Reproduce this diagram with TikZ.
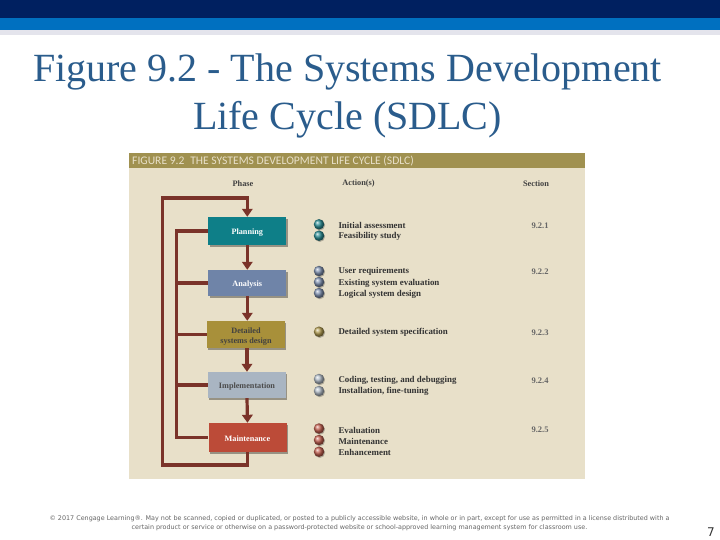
\documentclass[tikz,border=0pt]{standalone}
\usepackage{fontspec}
\setmainfont{Liberation Serif}
\newfontfamily\headfont{Carlito}
\newfontfamily\notefont{DejaVu Sans}
\usetikzlibrary{arrows.meta,shadows}
\definecolor{navyband}{HTML}{002060}
\definecolor{blueband}{HTML}{0070C0}
\definecolor{paleband}{HTML}{E4E4EC}
\definecolor{titleblue}{HTML}{2A5C8C}
\definecolor{panelfill}{HTML}{E8E0C9}
\definecolor{panelhead}{HTML}{A09150}
\definecolor{flowred}{HTML}{7A3329}
\definecolor{tealbox}{HTML}{0E7F88}
\definecolor{slatebox}{HTML}{6F84A8}
\definecolor{goldbox}{HTML}{A8903A}
\definecolor{greybox}{HTML}{A9B5C2}
\definecolor{redbox}{HTML}{BC4B38}
\newcommand{\lowertext}[2][1.2pt]{\raisebox{-#1}[\height][\depth]{#2}}
\tikzset{
    phasebox/.style={minimum width=78pt, minimum height=27pt, inner sep=0pt, align=center,
        font=\fontsize{8.2}{10}\selectfont\bfseries, text=white,
        drop shadow={shadow xshift=1.2pt, shadow yshift=-1.6pt, fill=black!35!panelfill, opacity=1}},
    flowline/.style={flowred, line width=3.2pt},
    flowarrow/.style={flowline, -{Triangle[width=10.5pt, length=8pt]}},
    ball/.style={circle, minimum size=10.5pt, inner sep=0pt, ball color=#1!88!white,
        drop shadow={shadow xshift=0.8pt, shadow yshift=-1pt, fill=black!25!panelfill, opacity=1}},
    actiontext/.style={anchor=west, yshift=-0.7pt, font=\fontsize{8.9}{10}\selectfont\bfseries, text=black!80},
    columnhead/.style={font=\fontsize{8.3}{10}\selectfont\bfseries, text=black!75},
    sectiontext/.style={yshift=-0.7pt, font=\fontsize{8.5}{10}\selectfont\bfseries, text=black!60}
}
\begin{document}
\begin{tikzpicture}[x=1pt, y=-1pt]
    \useasboundingbox (0,0) rectangle (720,540);
    % bands
    \fill[white] (0,0) rectangle (720,540);
    \fill[navyband] (0,0) rectangle (720,18);
    \fill[blueband] (0,18) rectangle (720,30);
    \fill[paleband] (0,30) rectangle (720,35);
    % title
    \node[text=titleblue, font=\fontsize{40}{48}\selectfont, align=center] (title) at (347.5,95.5) {Figure 9.2 - The Systems Development\\Life Cycle (SDLC)};
    % panel
    \fill[panelfill] (129,153) rectangle (585,479);
    \fill[panelhead] (129,153) rectangle (585,168);
    \node[anchor=west, text=panelfill, font=\headfont\fontsize{11.6}{12}\selectfont, inner sep=0pt] (paneltitle) at (132,161.3) {FIGURE 9.2\enspace THE SYSTEMS DEVELOPMENT LIFE CYCLE (SDLC)};
    \node[columnhead] (phasehead) at (243,183.5) {Phase};
    \node[columnhead] (actionhead) at (358.5,183.5) {Action(s)};
    \node[columnhead] (sectionhead) at (536,183.5) {Section};
    % phases
    \node[phasebox, fill=tealbox, minimum height=28pt] (planning) at (247.3,231) {\lowertext{Planning}};
    \node[phasebox, fill=slatebox, minimum height=26pt] (analysis) at (247.3,283) {\lowertext{Analysis}};
    \node[phasebox, fill=goldbox, text=black!75] (detailed) at (246,334.5) {\lowertext[2.5pt]{Detailed}\\\lowertext[2.5pt]{systems design}};
    \node[phasebox, fill=greybox, text=black!70, minimum height=26pt] (implementation) at (247,385) {\lowertext{Implementation}};
    \node[phasebox, fill=redbox, minimum height=29pt] (maintenance) at (247.5,437.5) {\lowertext{Maintenance}};
    % feedback lines
    \coordinate (outertop) at (162.7,198);
    \coordinate (outerbottom) at (162.7,465);
    \coordinate (innerline) at (176.7,300);
    \draw[flowline] (planning.west) -- (planning.west -| innerline) -- (maintenance.west -| innerline) -- (maintenance.west);
    \draw[flowline] (analysis.west) -- (analysis.west -| innerline);
    \draw[flowline] (detailed.west) -- (detailed.west -| innerline);
    \draw[flowline] (implementation.west) -- (implementation.west -| innerline);
    \draw[flowarrow] (maintenance.south) -- (maintenance.south |- outerbottom) -- (outerbottom) -- (outertop) -- (planning.north |- outertop) -- (planning.north);
    % forward arrows
    \draw[flowarrow] (planning.south) -- (analysis.north);
    \draw[flowarrow] (analysis.south) -- (analysis.south |- detailed.north);
    \draw[flowarrow] (detailed.south -| implementation.north) -- (implementation.north);
    \draw[flowarrow] (implementation.south) -- (maintenance.north);
    % bullets
    \node[ball=tealbox] (ballone) at (319,224.3) {};
    \node[ball=tealbox] (balltwo) at (319,235.7) {};
    \node[ball=slatebox] (ballthree) at (319,271) {};
    \node[ball=slatebox] (ballfour) at (319,282) {};
    \node[ball=slatebox] (ballfive) at (319,293) {};
    \node[ball=goldbox] (ballsix) at (319,331.7) {};
    \node[ball=greybox] (ballseven) at (319,379) {};
    \node[ball=greybox] (balleight) at (319,391) {};
    \node[ball=redbox] (ballnine) at (319,428.5) {};
    \node[ball=redbox] (ballten) at (319,440) {};
    \node[ball=redbox] (balleleven) at (319,451.7) {};
    % actions
    \node[actiontext] (assessment) at (335,225) {Initial assessment};
    \node[actiontext] (feasibility) at (335,235.5) {Feasibility study};
    \node[actiontext] (requirements) at (335,271) {User requirements};
    \node[actiontext] (evaluation) at (335,283) {Existing system evaluation};
    \node[actiontext] (logical) at (335,294) {Logical system design};
    \node[actiontext] (specification) at (335,332) {Detailed system specification};
    \node[actiontext] (coding) at (335,380) {Coding, testing, and debugging};
    \node[actiontext] (installation) at (335,391) {Installation, fine-tuning};
    \node[actiontext] (review) at (335,430) {Evaluation};
    \node[actiontext] (upkeep) at (335,440.5) {Maintenance};
    \node[actiontext] (enhancement) at (335,451.5) {Enhancement};
    % sections
    \node[sectiontext] (sectionone) at (540,225) {9.2.1};
    \node[sectiontext] (sectiontwo) at (540,271) {9.2.2};
    \node[sectiontext] (sectionthree) at (540,332) {9.2.3};
    \node[sectiontext] (sectionfour) at (540,380) {9.2.4};
    \node[sectiontext] (sectionfive) at (540,429.5) {9.2.5};
    % footer
    \node[text=black!60, font=\notefont\fontsize{6.4}{9}\selectfont, align=center, inner sep=0pt] (footnote) at (359.5,523) {© 2017 Cengage Learning®. May not be scanned, copied or duplicated, or posted to a publicly accessible website, in whole or in part, except for use as permitted in a license distributed with a\\certain product or service or otherwise on a password-protected website or school-approved learning management system for classroom use.};
    \node[text=black!80, font=\notefont\fontsize{12}{14}\selectfont] (pagenumber) at (711,532) {7};
\end{tikzpicture}
\end{document}
